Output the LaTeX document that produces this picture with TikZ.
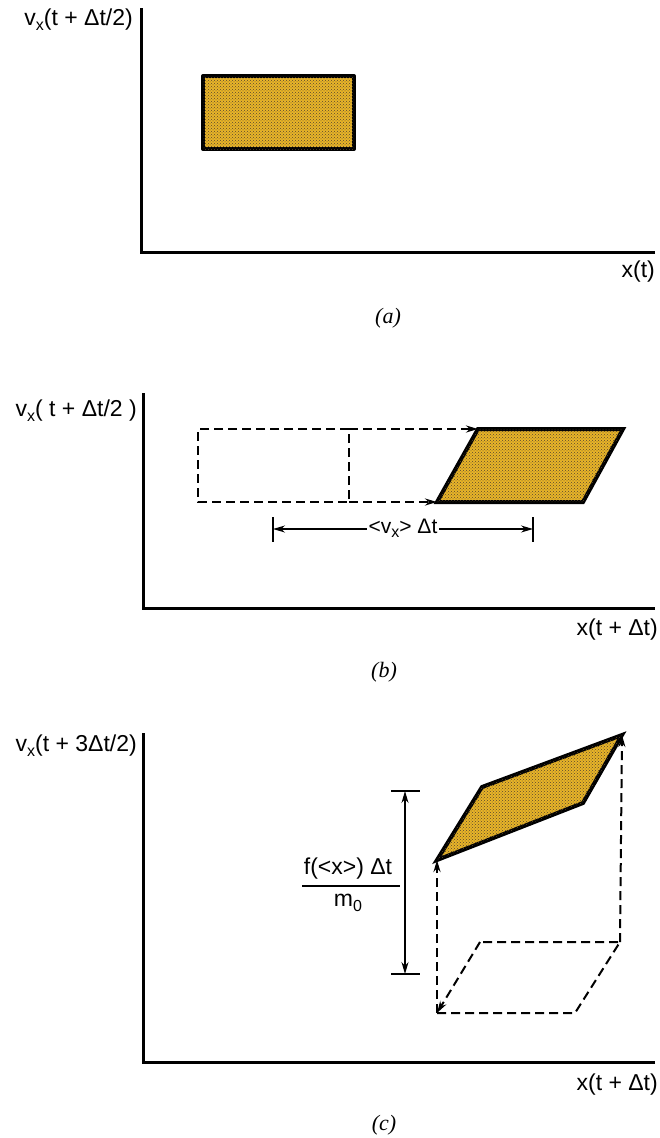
\documentclass[tikz,border=0pt]{standalone}
\usepackage{fontspec}
\setmainfont{Liberation Sans}
\newfontfamily\capfont{Liberation Serif}
\usepackage{tikz}
\usetikzlibrary{arrows.meta,patterns,calc,positioning}
\definecolor{oro}{RGB}{232,180,40}
\definecolor{pardo}{RGB}{60,38,10}
\tikzset{
  ejes/.style={line width=3pt},
  celda/.style={fill=oro,draw=black,line width=4pt,line join=round,
    postaction={pattern=crosshatch dots,pattern color=pardo!85}},
  previa/.style={dash pattern=on 9pt off 5pt,line width=2pt},
  flecha/.style={-{Stealth[length=12pt,width=7pt]}},
  cota/.style={{Stealth[length=12pt,width=7pt]}-{Stealth[length=12pt,width=7pt]},line width=1.2pt},
  tope/.style={line width=2pt},
  rotulo/.style={font=\fontsize{23}{26}\selectfont,inner sep=1pt},
  pie/.style={font=\capfont\itshape\fontsize{22}{25}\selectfont}
}
\newcommand{\vsub}{v\raisebox{-0.4ex}{\fontsize{16}{18}\selectfont x}}

\begin{document}
\begin{tikzpicture}[x=1pt,y=-1pt]
\useasboundingbox (0,0) rectangle (659,1138);
% (a)
\draw[ejes] (141,8) -- (141,252) -- (655,252);
\node[rotulo,anchor=east] (ya) at (134,20) {\vsub(t + Δt/2)};
\node[rotulo,anchor=north east] (xa) at (656,260) {x(t)};
\draw[celda] (203,76) rectangle (354,149);
\node[pie] (pa) at (388,318) {(a)};

% (b)
\draw[ejes] (143,393) -- (143,608) -- (655,608);
\node[rotulo,anchor=east] (yb) at (138,411) {\vsub( t + Δt/2 )};
\node[rotulo,anchor=north east] (xb) at (659,618) {x(t + Δt)};
\coordinate (b1) at (198,429);
\coordinate (b2) at (349,429);
\coordinate (b3) at (198,502);
\coordinate (b4) at (349,502);
\coordinate (q1) at (437,502);
\coordinate (q2) at (583,502);
\coordinate (q3) at (623,429);
\coordinate (q4) at (478,429);
\draw[celda,line join=miter] (q1) -- (q2) -- (q3) -- (q4) -- cycle;
\draw[previa] (b2) -- (b1) -- (b3) -- (b4) -- cycle;
\draw[previa,flecha] (b2) -- (q4);
\draw[previa,flecha] (b4) -- (q1);
\coordinate (c1) at (273,529);
\coordinate (c2) at (533,529);
\draw[tope] ($(c1)+(0,-12)$) -- ($(c1)+(0,13)$);
\draw[tope] ($(c2)+(0,-12)$) -- ($(c2)+(0,13)$);
\draw[cota] (c1) -- (c2);
\node[rotulo,font=\fontsize{21}{24}\selectfont,fill=white,inner sep=2pt] (vb) at (403,528) {<\vsub> Δt};
\node[pie] (pb) at (384,672) {(b)};

% (c)
\draw[ejes] (143,733) -- (143,1062) -- (655,1062);
\node[rotulo,anchor=east] (yc) at (138,746) {\vsub(t + 3Δt/2)};
\node[rotulo,anchor=north east] (xc) at (659,1073) {x(t + Δt)};
\coordinate (r1) at (437,1013);
\coordinate (r2) at (575,1013);
\coordinate (r3) at (620,942);
\coordinate (r4) at (480,942);
\coordinate (s1) at (437,860);
\coordinate (s2) at (583,803);
\coordinate (s3) at (622,735);
\coordinate (s4) at (482,787);
\draw[celda,line join=miter] (s1) -- (s4) -- (s3) -- (s2) -- cycle;
\draw[previa] (r1) -- (r2) -- (r3) -- (r4);
\draw[previa,flecha] (r4) -- (r1);
\draw[previa,flecha] (r1) -- (s1);
\draw[previa,flecha] (r3) -- (s3);
\coordinate (d1) at (405,791);
\coordinate (d2) at (405,974);
\draw[tope] ($(d1)+(-14,0)$) -- ($(d1)+(15,0)$);
\draw[tope] ($(d2)+(-14,0)$) -- ($(d2)+(15,0)$);
\draw[cota] (d1) -- (d2);
\node[rotulo] (fn) at (348,869) {f(<x>) Δt};
\node[rotulo] (fd) at (348,903) {m\raisebox{-0.4ex}{\fontsize{16}{18}\selectfont 0}};
\draw[line width=1.2pt] (302,886) -- (400,886);
\node[pie] (pc) at (384,1125) {(c)};
\end{tikzpicture}
\end{document}
